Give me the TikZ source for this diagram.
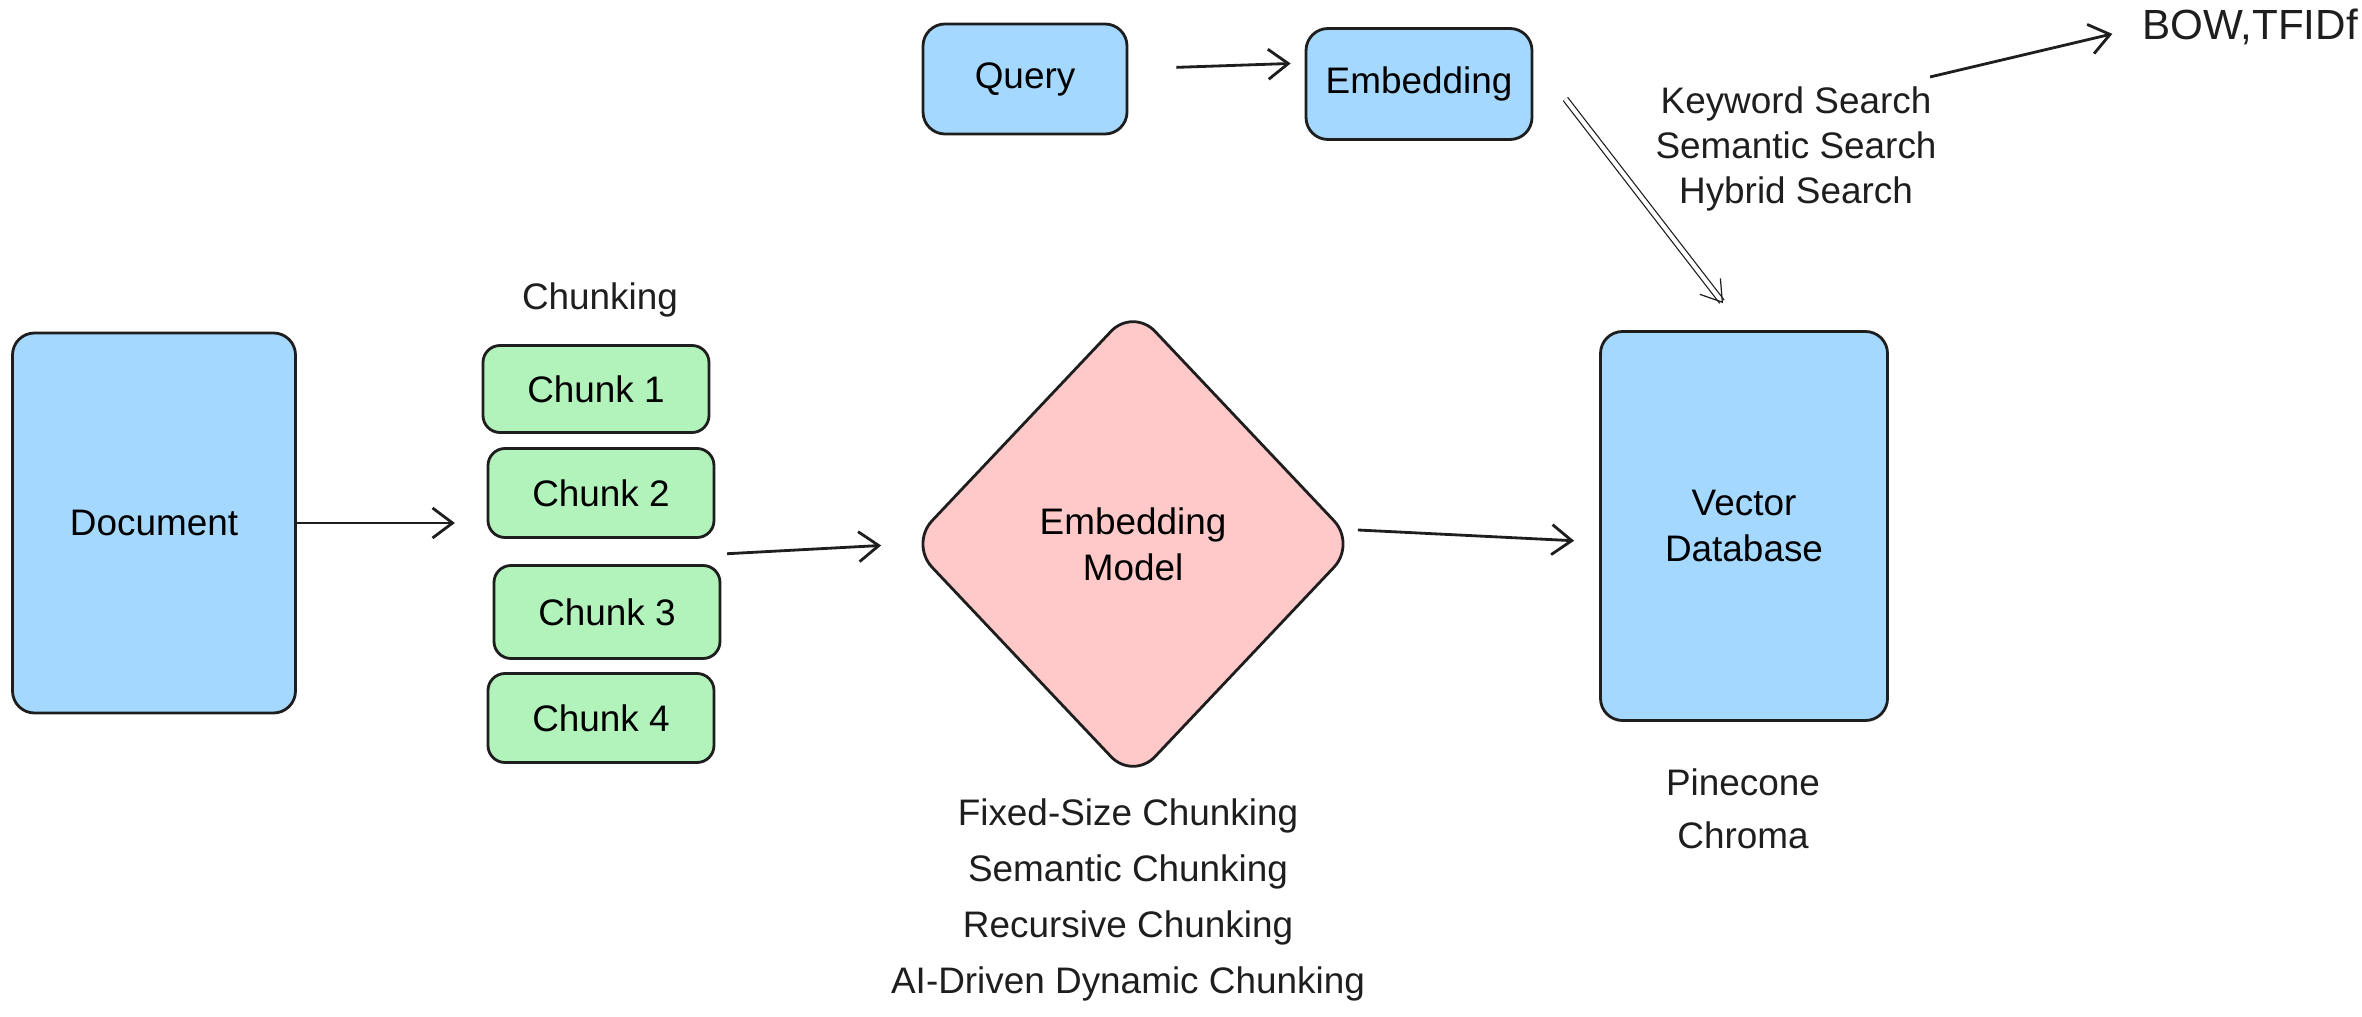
\documentclass[tikz,border=0pt]{standalone}
\usepackage{fontspec}
\setmainfont{Liberation Sans}
\usetikzlibrary{shapes.geometric, arrows.meta, fit}

\definecolor{boxblue}{HTML}{A5D8FF}
\definecolor{boxgreen}{HTML}{B2F2BB}
\definecolor{boxpink}{HTML}{FFC9C9}
\definecolor{inkline}{HTML}{1E1E1E}

\tikzset{
	bluebox/.style={draw=inkline, fill=boxblue, line width=0.8pt, rounded corners=0.22cm, inner sep=0pt},
	chunkbox/.style={draw=inkline, fill=boxgreen, line width=0.8pt, rounded corners=0.17cm, minimum width=2.26cm, inner sep=0pt},
	arr/.style={-{Straight Barb[length=2mm, width=3mm]}, line width=0.8pt, draw=inkline},
	dblarr/.style={-{Straight Barb[length=2mm, width=2.6mm]}, draw=inkline, double, double distance=1.2pt, line width=0.35pt},
	plaintxt/.style={text=inkline, inner sep=0pt, align=center}
}

\begin{document}
\begin{tikzpicture}[font=\fontsize{10.5}{13}\selectfont]
		\useasboundingbox (0,0) rectangle (23.62,-10.17);

		\node[bluebox, minimum width=2.83cm, minimum height=3.80cm] (doc) at (1.54,-5.23) {Document};

		\node[plaintxt] (chunking) at (6.00,-3.00) {Chunking};
		\node[chunkbox, minimum height=0.87cm] (c1) at (5.96,-3.89) {Chunk 1};
		\node[chunkbox, minimum height=0.89cm] (c2) at (6.01,-4.93) {Chunk 2};
		\node[chunkbox, minimum height=0.93cm] (c3) at (6.07,-6.12) {Chunk 3};
		\node[chunkbox, minimum height=0.89cm] (c4) at (6.01,-7.18) {Chunk 4};
		\node[fit=(c1)(c2)(c3)(c4), inner sep=0pt] (chunks) {};
		\draw[arr, shorten >=0.26cm] (doc.east) -- (doc.east -| chunks.west);

		\node[draw=inkline, fill=boxpink, line width=0.8pt, shape=diamond, rounded corners=0.32cm, minimum width=4.47cm, minimum height=4.73cm, inner sep=0pt, align=center] (emodel) at (11.33,-5.44) {Embedding\\Model};
		\draw[arr, shorten <=0.05cm, shorten >=0.27cm] (chunks.east) -- (emodel.west);

		\node[bluebox, minimum width=2.87cm, minimum height=3.89cm, align=center] (vdb) at (17.44,-5.26) {Vector\\Database};
		\draw[arr, shorten <=0.0cm, shorten >=0.25cm] ([yshift=0.14cm]emodel.east) -- ([yshift=-0.16cm]vdb.west);

		\node[plaintxt, font=\fontsize{10.5}{15}\selectfont] (dbs) at (17.43,-8.09) {Pinecone\\Chroma};
		\node[plaintxt, font=\fontsize{10.5}{16}\selectfont] (methods) at (11.28,-9.00) {Fixed-Size Chunking\\Semantic Chunking\\Recursive Chunking\\AI-Driven Dynamic Chunking};

		\node[bluebox, minimum width=2.04cm, minimum height=1.10cm] (query) at (10.25,-0.79) {Query};
		\node[bluebox, minimum width=2.26cm, minimum height=1.11cm] (emb) at (14.19,-0.84) {Embedding};
		\draw[arr, shorten <=0.48cm, shorten >=0.14cm] ([yshift=0.1cm]query.east) -- ([yshift=0.21cm]emb.west);

		\draw[dblarr] ([xshift=0.32cm, yshift=-0.15cm]emb.east) -- ([xshift=-0.21cm, yshift=0.27cm]vdb.north);

		\node[plaintxt, font=\fontsize{10.5}{12.8}\selectfont] (search) at (17.96,-1.49) {Keyword Search\\Semantic Search\\Hybrid Search};
		\node[plaintxt, font=\fontsize{12}{14}\selectfont] (bow) at (22.50,-0.27) {BOW,TFIDf};
		\draw[arr, shorten <=0.05cm, shorten >=0.3cm] ([xshift=-0.12cm, yshift=0.08cm]search.north east) -- (bow.west);

\end{tikzpicture}
\end{document}
